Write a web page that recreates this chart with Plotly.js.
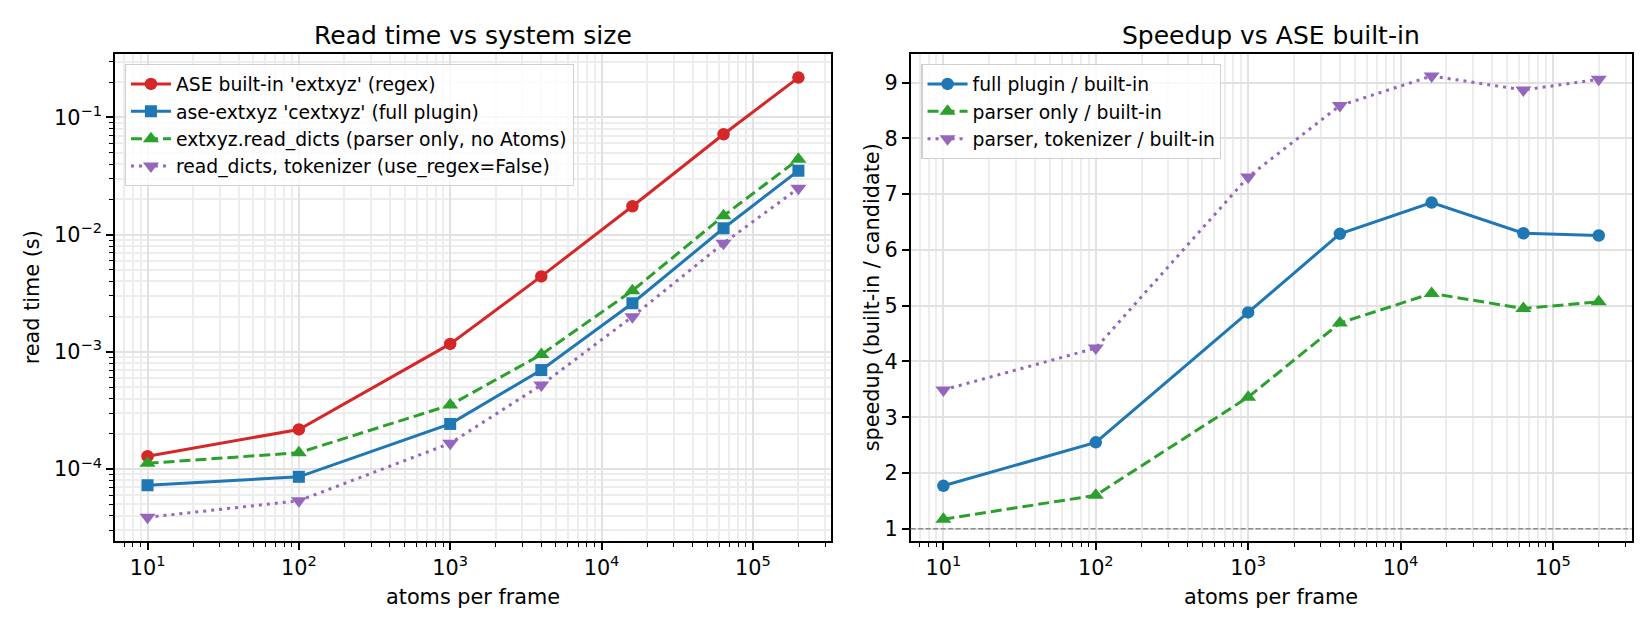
<!DOCTYPE html>
<html>
<head>
<meta charset="utf-8">
<script src="https://cdn.plot.ly/plotly-3.0.1.min.js"></script>
<style>
  html, body { margin: 0; padding: 0; background: #ffffff; }
  #chart { width: 1650px; height: 630px; }
</style>
</head>
<body>
<div id="chart"></div>
<script>
// ---------------- data ----------------
const atoms = [10, 100, 1000, 4000, 16000, 64000, 200000];

// read time (s)
const tBuiltin   = [1.29e-4, 2.18e-4, 1.17e-3, 4.41e-3, 1.75e-2, 7.2e-2, 0.219];
const tPlugin    = [7.3e-5, 8.6e-5, 2.43e-4, 7.0e-4, 2.6e-3, 1.135e-2, 3.52e-2];
const tParser    = [1.12e-4, 1.38e-4, 3.52e-4, 9.5e-4, 3.33e-3, 1.45e-2, 4.4e-2];
const tTokenizer = [3.88e-5, 5.37e-5, 1.66e-4, 5.22e-4, 2.0e-3, 8.45e-3, 2.49e-2];

// speedup (built-in / candidate)
const suPlugin    = [1.77, 2.55, 4.88, 6.29, 6.85, 6.30, 6.26];
const suParser    = [1.17, 1.60, 3.36, 4.69, 5.22, 4.95, 5.07];
const suTokenizer = [3.49, 4.24, 7.31, 8.59, 9.12, 8.87, 9.06];

// names and labels
const leftNames  = ["ASE built-in 'extxyz' (regex)", "ase-extxyz 'cextxyz' (full plugin)",
                    "extxyz.read_dicts (parser only, no Atoms)", "read_dicts, tokenizer (use_regex=False)"];
const rightNames = ["full plugin / built-in", "parser only / built-in", "parser, tokenizer / built-in"];
const xTickVals = [10, 100, 1000, 10000, 100000];
const xTickText = ["10<sup>1</sup>", "10<sup>2</sup>", "10<sup>3</sup>", "10<sup>4</sup>", "10<sup>5</sup>"];
const yTickVals = [1e-4, 1e-3, 1e-2, 1e-1];
const yTickText = ["10<sup>−4</sup>", "10<sup>−3</sup>", "10<sup>−2</sup>", "10<sup>−1</sup>"];
const y2TickVals = [1, 2, 3, 4, 5, 6, 7, 8, 9];
const titles = ["Read time vs system size", "Speedup vs ASE built-in"];
const xLabel = "atoms per frame";
const yLabels = ["read time (s)", "speedup (built-in / candidate)"];

// ---------------- style ----------------
const C = { red: '#d62728', blue: '#1f77b4', green: '#2ca02c', purple: '#9467bd' };
const FONT = 'DejaVu Sans';
const LW = 3;
const DASH = '11px,5px';
const DOT = '3px,5px';

function minorVals(lo, hi) {
  const v = [];
  for (let e = Math.floor(lo); e <= Math.ceil(hi); e++) {
    for (let m = 2; m <= 9; m++) {
      const val = m * Math.pow(10, e);
      const l = Math.log10(val);
      if (l >= lo && l <= hi) v.push(val);
    }
  }
  return v;
}

const xRange = [0.785, 5.516];
const yRange = [-4.611, -0.4625];
const y2Range = [0.785, 9.506];

function trace(x, y, name, color, symbol, size, dash, xa, ya, legend) {
  return {
    type: 'scatter', mode: 'lines+markers', x: x, y: y, name: name,
    xaxis: xa, yaxis: ya, legend: legend,
    line: { color: color, width: LW, dash: dash },
    marker: { color: color, symbol: symbol, size: size, line: { width: 0 } }
  };
}

const data = [
  trace(atoms, tBuiltin,   leftNames[0], C.red,    'circle',        12.5, 'solid', 'x', 'y', 'legend'),
  trace(atoms, tPlugin,    leftNames[1], C.blue,   'square',        12,   'solid', 'x', 'y', 'legend'),
  trace(atoms, tParser,    leftNames[2], C.green,  'triangle-up',   14,   DASH,    'x', 'y', 'legend'),
  trace(atoms, tTokenizer, leftNames[3], C.purple, 'triangle-down', 14,   DOT,     'x', 'y', 'legend'),
  trace(atoms, suPlugin,    rightNames[0], C.blue,   'circle',        12.5, 'solid', 'x2', 'y2', 'legend2'),
  trace(atoms, suParser,    rightNames[1], C.green,  'triangle-up',   14,   DASH,    'x2', 'y2', 'legend2'),
  trace(atoms, suTokenizer, rightNames[2], C.purple, 'triangle-down', 14,   DOT,     'x2', 'y2', 'legend2')
];

const tickFont = { family: FONT, size: 20.8, color: '#000000' };
const GRID = '#e2e2e2';
const GRIDMINOR = '#ededed';

function logX(domain, anchor) {
  return {
    domain: domain, anchor: anchor, type: 'log', range: xRange,
    tickmode: 'array', tickvals: xTickVals, ticktext: xTickText,
    ticks: 'outside', ticklen: 7, tickwidth: 1.7, tickcolor: '#000',
    showline: true, mirror: true, linecolor: '#000', linewidth: 1.7,
    showgrid: true, gridcolor: GRID, gridwidth: 1.6, zeroline: false,
    tickfont: tickFont,
    minor: { tickmode: 'array', tickvals: minorVals(xRange[0], xRange[1]),
             ticks: 'outside', ticklen: 4, tickwidth: 1.2, tickcolor: '#000',
             showgrid: true, gridcolor: GRIDMINOR, gridwidth: 1.6 }
  };
}

const yDomain = [0.1417, 0.9135];

const layout = {
  width: 1650, height: 630,
  margin: { l: 0, r: 0, t: 0, b: 0 },
  paper_bgcolor: '#ffffff', plot_bgcolor: '#ffffff',
  font: { family: FONT, color: '#000000' },
  xaxis: logX([0.0697, 0.5036], 'y'),
  yaxis: {
    domain: yDomain, anchor: 'x', type: 'log', range: yRange,
    tickmode: 'array', tickvals: yTickVals, ticktext: yTickText,
    ticks: 'outside', ticklen: 7, tickwidth: 1.7, tickcolor: '#000',
    showline: true, mirror: true, linecolor: '#000', linewidth: 1.7,
    showgrid: true, gridcolor: GRID, gridwidth: 1.6, zeroline: false,
    tickfont: tickFont,
    minor: { tickmode: 'array', tickvals: minorVals(yRange[0], yRange[1]),
             ticks: 'outside', ticklen: 4, tickwidth: 1.2, tickcolor: '#000',
             showgrid: true, gridcolor: GRIDMINOR, gridwidth: 1.6 }
  },
  xaxis2: logX([0.5519, 0.9888], 'y2'),
  yaxis2: {
    domain: yDomain, anchor: 'x2', type: 'linear', range: y2Range,
    tickmode: 'array', tickvals: y2TickVals,
    ticks: 'outside', ticklen: 7, tickwidth: 1.7, tickcolor: '#000',
    showline: true, mirror: true, linecolor: '#000', linewidth: 1.7,
    showgrid: true, gridcolor: GRID, gridwidth: 1.6, zeroline: false,
    tickfont: tickFont
  },
  legend: {
    x: 0.0756, y: 0.8984, xanchor: 'left', yanchor: 'top',
    bgcolor: 'rgba(255,255,255,0.8)', bordercolor: '#d0d0d0', borderwidth: 1.2,
    font: { family: FONT, size: 18.75, color: '#000' }, itemwidth: 40
  },
  legend2: {
    x: 0.5584, y: 0.8984, xanchor: 'left', yanchor: 'top',
    bgcolor: 'rgba(255,255,255,0.8)', bordercolor: '#d0d0d0', borderwidth: 1.2,
    font: { family: FONT, size: 18.75, color: '#000' }, itemwidth: 40
  },
  shapes: [{
    type: 'line', xref: 'x2 domain', yref: 'y2', x0: 0, x1: 1, y0: 1, y1: 1,
    line: { color: '#8c8c8c', width: 1.6, dash: '5px,2.5px' }, layer: 'above'
  }],
  annotations: [
    { text: titles[0], xref: 'paper', yref: 'paper', x: 0.2867, y: 0.9444,
      xanchor: 'center', yanchor: 'middle', showarrow: false,
      font: { family: FONT, size: 25, color: '#000' } },
    { text: titles[1], xref: 'paper', yref: 'paper', x: 0.7704, y: 0.9444,
      xanchor: 'center', yanchor: 'middle', showarrow: false,
      font: { family: FONT, size: 25, color: '#000' } },
    { text: xLabel, xref: 'paper', yref: 'paper', x: 0.2867, y: 0.0524,
      xanchor: 'center', yanchor: 'middle', showarrow: false,
      font: { family: FONT, size: 20.8, color: '#000' } },
    { text: xLabel, xref: 'paper', yref: 'paper', x: 0.7704, y: 0.0524,
      xanchor: 'center', yanchor: 'middle', showarrow: false,
      font: { family: FONT, size: 20.8, color: '#000' } },
    { text: yLabels[0], xref: 'paper', yref: 'paper', x: 0.0192, y: 0.5276,
      xanchor: 'center', yanchor: 'middle', textangle: -90, showarrow: false,
      font: { family: FONT, size: 20.8, color: '#000' } },
    { text: yLabels[1], xref: 'paper', yref: 'paper', x: 0.5283, y: 0.5276,
      xanchor: 'center', yanchor: 'middle', textangle: -90, showarrow: false,
      font: { family: FONT, size: 20.8, color: '#000' } }
  ]
};

Plotly.newPlot('chart', data, layout, { displayModeBar: false, responsive: false });
</script>
</body>
</html>
